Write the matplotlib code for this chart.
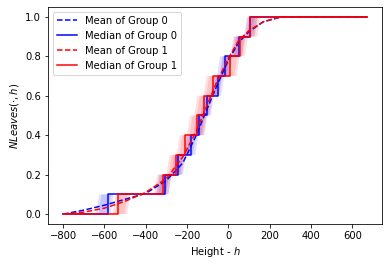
import matplotlib
matplotlib.use("Agg")
import matplotlib.pyplot as plt
import numpy as np

# mean curves (height, NLeaves)
mean_h = [-800, -700, -600, -500, -400, -300, -220, -155, -120, -60, 0, 50, 100, 170, 250, 670]
mean_g0 = [0.0, 0.02, 0.045, 0.075, 0.105, 0.17, 0.26, 0.40, 0.49, 0.64, 0.78, 0.87, 0.925, 0.975, 0.998, 1.0]
mean_g1 = [0.0, 0.01, 0.03, 0.065, 0.11, 0.18, 0.29, 0.42, 0.51, 0.66, 0.79, 0.88, 0.93, 0.975, 0.998, 1.0]

# heights where the median jumps one level (0.1 per step)
levels = [0.0, 0.1, 0.2, 0.3, 0.4, 0.5, 0.6, 0.7, 0.8, 0.9, 1.0]
steps_g0 = [-583, -308, -244, -179, -140, -105, -52, -18, 50, 103]
steps_g1 = [-534, -316, -252, -211, -150, -120, -75, 6, 55, 103]
h_min, h_max = -800, 670

# spread of the jump heights
lo_g0 = [-640, -350, -275, -215, -170, -135, -85, -55, 15, 75]
hi_g0 = [-570, -290, -220, -160, -120, -85, -35, 5, 65, 125]
lo_g1 = [-560, -360, -300, -250, -200, -165, -120, -40, 10, 80]
hi_g1 = [-490, -290, -225, -180, -115, -90, -45, 40, 80, 140]


def step_line(steps):
    x, y = [h_min], [levels[0]]
    for i, s in enumerate(steps):
        x += [s, s]
        y += [levels[i], levels[i + 1]]
    x.append(h_max)
    y.append(levels[-1])
    return x, y


fig = plt.figure(figsize=(389 / 72, 266 / 72), dpi=72)
ax = fig.add_axes([0.123, 0.158, 0.859, 0.816])

groups = [(mean_g0, steps_g0, lo_g0, hi_g0, "blue", "0"),
          (mean_g1, steps_g1, lo_g1, hi_g1, "red", "1")]
for mean, steps, lo, hi, c, name in groups:
    shift = 15
    for i in range(len(steps)):
        ys = [levels[i], levels[i], levels[i + 1], levels[i + 1]]
        xs = [lo[i], hi[i], hi[i] + shift, lo[i] + shift]
        ax.fill(xs, ys, color=c, alpha=0.12, lw=0)
        xs2 = [lo[i] + 12, hi[i] - 12, hi[i] - 12 + shift, lo[i] + 12 + shift]
        ax.fill(xs2, ys, color=c, alpha=0.12, lw=0)
    ax.plot(mean_h, mean, "--", color=c, lw=1.5, label="Mean of Group " + name)
    sx, sy = step_line(steps)
    ax.plot(sx, sy, "-", color=c, lw=1.5, label="Median of Group " + name)

ax.set_xlabel("Height - $h$")
ax.set_ylabel(r"$NLeaves(\cdot, h)$")
ax.legend(loc="upper left")
fig.savefig("out.png", dpi=72)
